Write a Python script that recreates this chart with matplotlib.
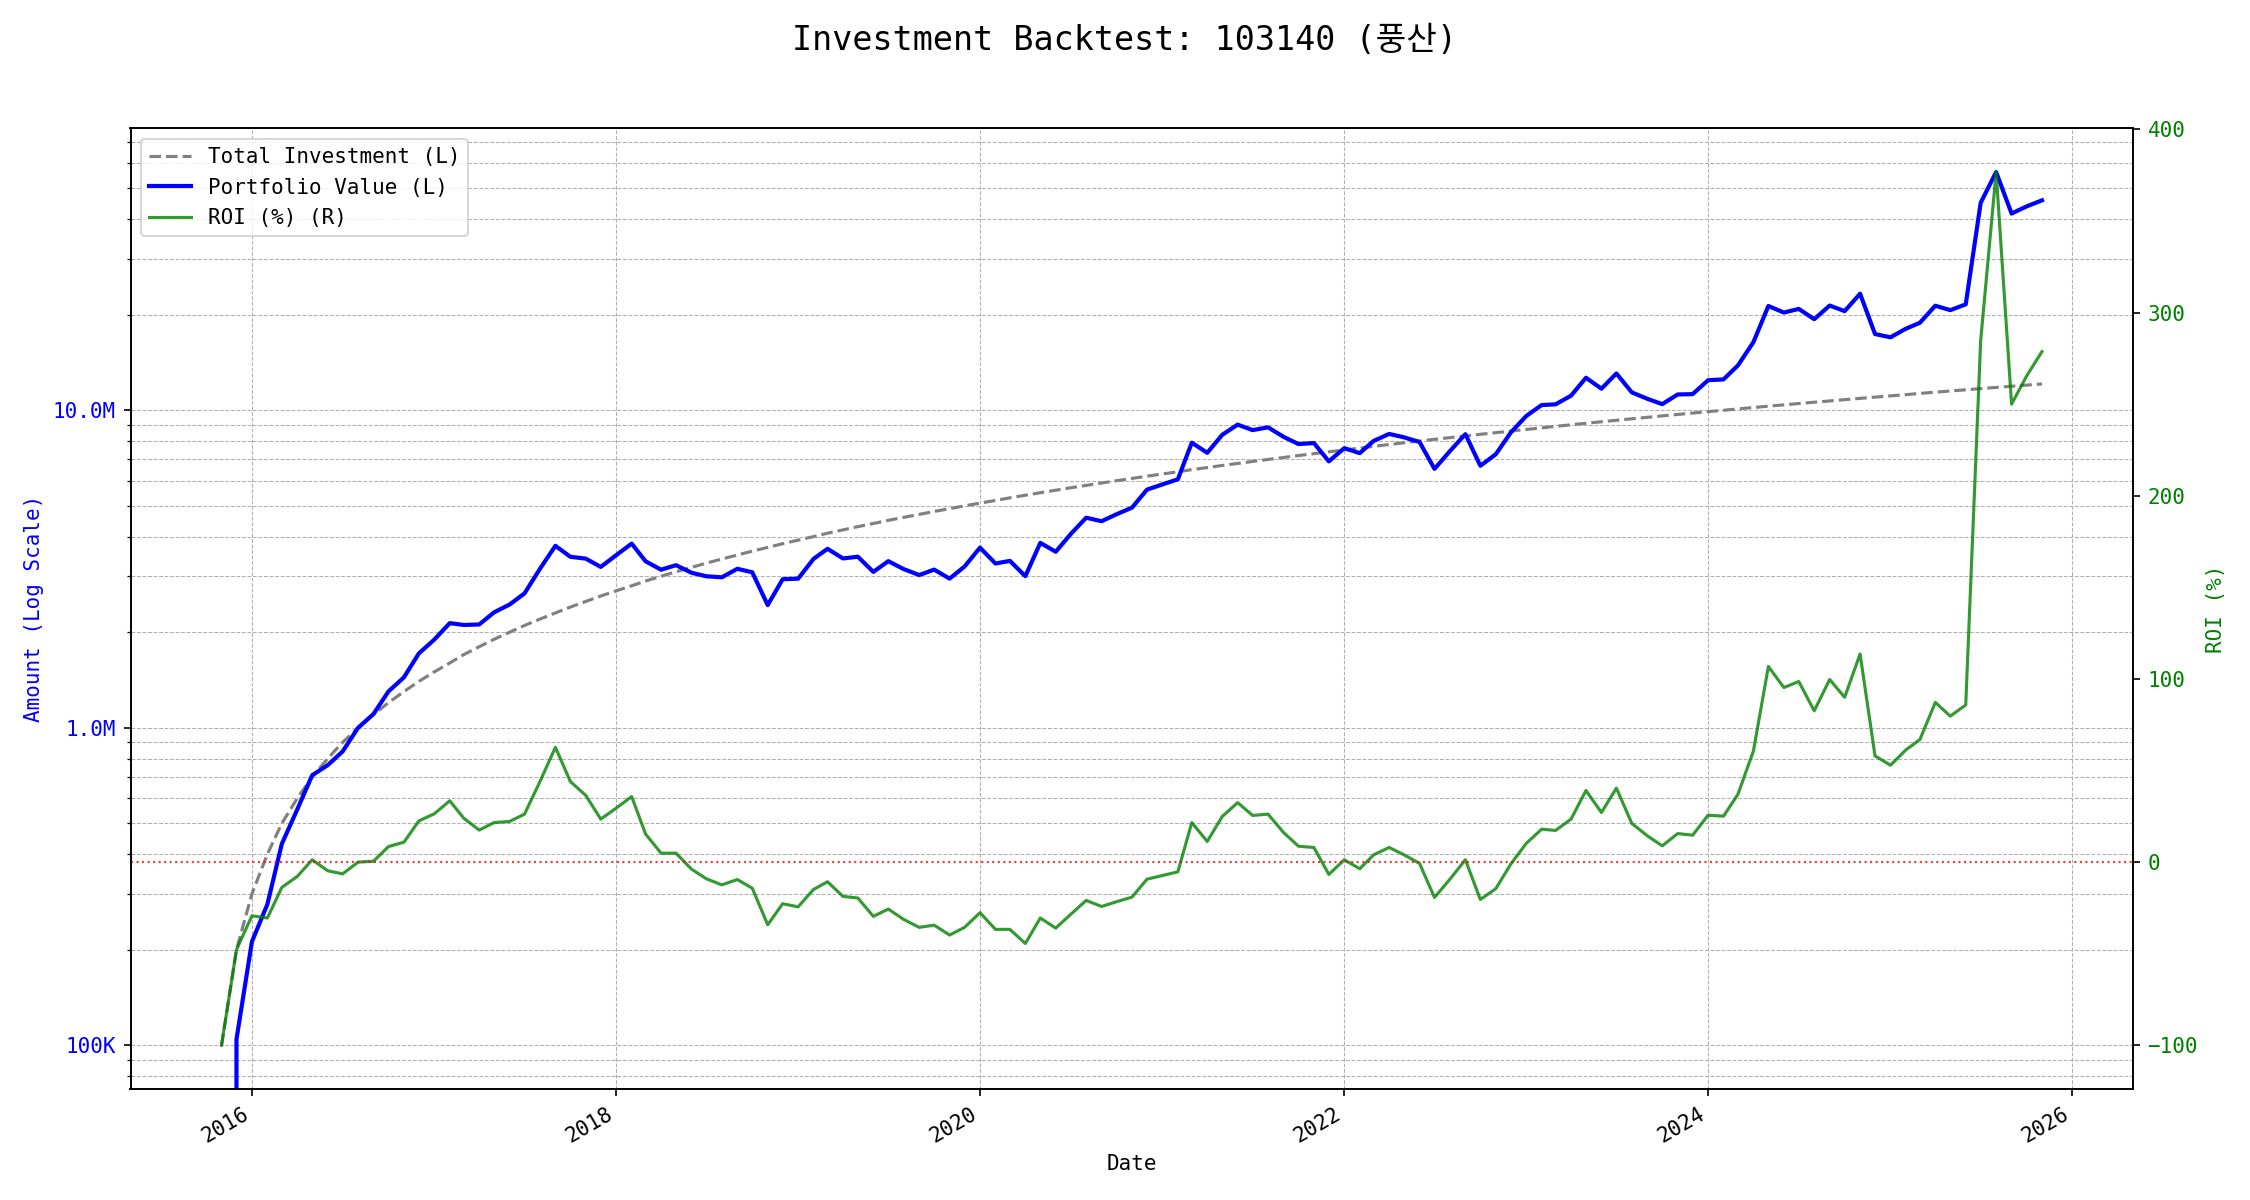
#!/usr/bin/env python3

import numpy as np
import pandas as pd
import matplotlib
matplotlib.use('Agg')
from matplotlib import pyplot as plt
from matplotlib import ticker

plt.rcParams['font.family'] = ['DejaVu Sans Mono', 'Noto Sans CJK KR']

# monthly buy of 100K, Nov 2015 .. Nov 2025
start_month = '2015-11-01'
n_months = 121
monthly_buy = 100_000

# ROI (%), one value per month
roi = [
    -100, -47.8, -29.3, -30.5, -13.8, -7.8, 1.3, -4.7, -6.4, 0.0,
    0.5, 8.5, 10.9, 22.5, 26.4, 33.5, 24.0, 17.5, 21.6, 22.2,
    26.2, 44.0, 62.7, 44.0, 36.4, 23.5, 29.5, 35.8, 15.3, 4.9,
    4.9, -3.8, -9.1, -12.4, -9.5, -14.2, -34.2, -22.7, -24.4, -14.9,
    -10.7, -18.7, -19.6, -29.6, -25.6, -31.3, -35.6, -34.4, -39.8, -35.6,
    -27.6, -36.7, -36.7, -44.4, -30.5, -36.0, -28.5, -20.9, -24.2, -21.6,
    -19.1, -9.3, -7.3, -5.3, 21.6, 11.3, 24.9, 32.5, 25.5, 26.2,
    16.2, 8.7, 8.0, -6.7, 1.3, -3.6, 4.0, 8.0, 4.0, -0.7,
    -19.3, -9.3, 1.3, -20.4, -14.5, -1.1, 10.2, 18.0, 17.3, 23.5,
    39.1, 27.1, 40.4, 21.1, 14.4, 8.9, 15.6, 14.7, 25.6, 25.1,
    37.1, 60.7, 106.8, 95.3, 98.6, 82.6, 99.7, 90.0, 113.6, 58.0,
    52.9, 61.3, 66.9, 87.2, 79.7, 85.8, 284.8, 376.7, 250.0, 265.3,
    278.7,
]

dates = pd.date_range(start_month, periods=n_months, freq='MS')
total_investment = np.cumsum(np.full(n_months, monthly_buy, dtype=float))
portfolio_value = total_investment * (1 + np.array(roi) / 100)

fig, ax1 = plt.subplots(figsize=(15, 8), dpi=150)

l1, = ax1.plot(dates, total_investment, color='gray', ls='--', lw=1.5, label='Total Investment (L)')
l2, = ax1.plot(dates, portfolio_value, color='blue', lw=2, label='Portfolio Value (L)')
ax1.set_yscale('log')
ax1.set_xlabel('Date')
ax1.set_ylabel('Amount (Log Scale)', color='blue')
ax1.tick_params(axis='y', labelcolor='blue')


def fmt_amount(x, pos):
    if x >= 1e6:
        return f'{x / 1e6:.1f}M'
    if x >= 1e3:
        return f'{x / 1e3:.0f}K'
    return f'{x:.0f}'


ax1.yaxis.set_major_formatter(ticker.FuncFormatter(fmt_amount))
ax1.yaxis.set_minor_formatter(ticker.NullFormatter())
ax1.grid(True, which='both', ls='--', lw=0.5)

ax2 = ax1.twinx()
l3, = ax2.plot(dates, roi, color='green', alpha=0.8, lw=1.5, label='ROI (%) (R)')
ax2.axhline(0, color='red', ls=':', lw=1, alpha=0.8)
ax2.set_ylabel('ROI (%)', color='green')
ax2.tick_params(axis='y', labelcolor='green')

ax2.legend([l1, l2, l3], [l.get_label() for l in (l1, l2, l3)], loc='upper left')

fig.suptitle('Investment Backtest: 103140 (풍산)', fontsize=16)
fig.autofmt_xdate()
# autofmt_xdate moves the bottom, so set the margins afterwards
fig.subplots_adjust(left=0.058, right=0.948, bottom=0.0925, top=0.893)

plt.savefig('out.png')
